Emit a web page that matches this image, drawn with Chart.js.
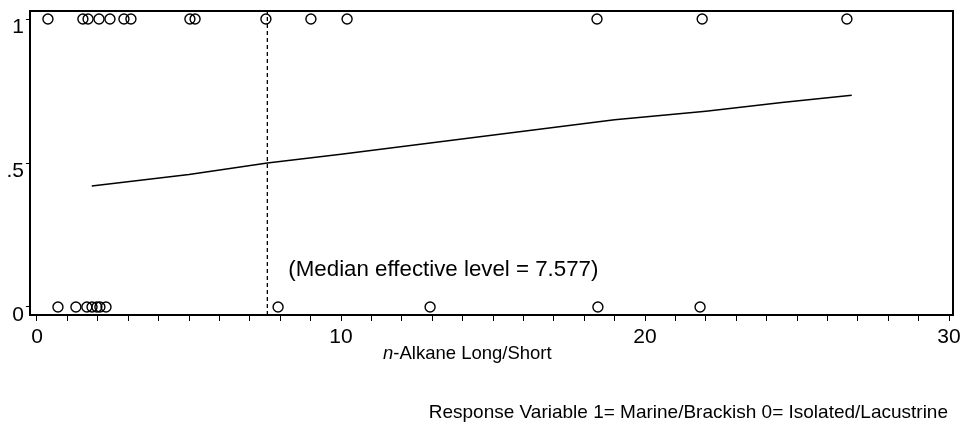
<!DOCTYPE html>
<html>
<head>
<meta charset="utf-8">
<script src="https://cdn.jsdelivr.net/npm/chart.js@4"></script>
<style>
  html, body { margin: 0; padding: 0; background: #fff; }
  #wrap { width: 967px; height: 432px; }
</style>
</head>
<body>
<div id="wrap"><canvas id="chart" width="967" height="432"></canvas></div>
<script>
// observed values, response = 1 (marine/brackish)
const marineX = [0.36, 1.51, 1.68, 2.04, 2.40, 2.86, 3.09, 5.03, 5.20, 7.53, 9.01, 10.20, 18.42, 21.88, 26.64];
// observed values, response = 0 (isolated/lacustrine)
const lacustrineX = [0.69, 1.28, 1.64, 1.81, 1.97, 2.07, 2.27, 7.93, 12.93, 18.45, 21.81];

// fitted probability curve
const fitX = [1.8, 5, 7.577, 10, 13, 16, 19, 22, 24.5, 26.8];
const fitY = [0.42, 0.46, 0.50, 0.53, 0.57, 0.61, 0.65, 0.68, 0.71, 0.735];

const medianLevel = 7.577;
const xTicks = [0, 10, 20, 30];
const yTicks = [0, 0.5, 1];
const yTickLabels = ['0', '.5', '1'];

const X_MIN = -0.23, X_MAX = 30.13;
const Y_MIN = -0.028, Y_MAX = 1.028;
const FONT = '"Liberation Sans", Arial, sans-serif';

const textPlugin = {
  id: 'textPlugin',
  afterDraw(chart) {
    const ctx = chart.ctx;
    const a = chart.chartArea;
    const xs = chart.scales.x;
    ctx.save();
    // frame
    ctx.strokeStyle = '#000';
    ctx.lineWidth = 2;
    ctx.strokeRect(a.left, a.top, a.right - a.left, a.bottom - a.top);

    ctx.fillStyle = '#000';
    ctx.textBaseline = 'middle';
    ctx.font = '22.3px ' + FONT;
    ctx.textAlign = 'left';
    ctx.fillText('(Median effective level = ' + medianLevel + ')', xs.getPixelForValue(medianLevel) + 21, 270);

    // x-axis title with italic n
    const y = 354;
    let x = 383;
    ctx.font = 'italic 18.5px ' + FONT;
    ctx.fillText('n', x, y);
    x += ctx.measureText('n').width;
    ctx.font = '18.5px ' + FONT;
    ctx.fillText('-Alkane Long/Short', x, y);

    ctx.font = '19px ' + FONT;
    ctx.textAlign = 'right';
    ctx.fillText('Response Variable 1= Marine/Brackish 0= Isolated/Lacustrine', 948, 413);
    ctx.restore();
  }
};

new Chart(document.getElementById('chart').getContext('2d'), {
  type: 'scatter',
  data: {
    datasets: [
      {
        label: 'Fitted',
        type: 'line',
        data: fitX.map((v, i) => ({ x: v, y: fitY[i] })),
        borderColor: '#000',
        borderWidth: 1.5,
        pointRadius: 0,
        fill: false,
        tension: 0
      },
      {
        label: 'Median',
        type: 'line',
        data: [{ x: medianLevel, y: Y_MIN }, { x: medianLevel, y: Y_MAX }],
        borderColor: '#000',
        borderWidth: 1.3,
        borderDash: [4, 3],
        pointRadius: 0,
        fill: false
      },
      {
        label: 'Marine/Brackish',
        data: marineX.map(v => ({ x: v, y: 1 })),
        pointStyle: 'circle',
        pointRadius: 5,
        pointBorderWidth: 1.4,
        borderColor: '#000',
        backgroundColor: 'rgba(0,0,0,0)'
      },
      {
        label: 'Isolated/Lacustrine',
        data: lacustrineX.map(v => ({ x: v, y: 0 })),
        pointStyle: 'circle',
        pointRadius: 5,
        pointBorderWidth: 1.4,
        borderColor: '#000',
        backgroundColor: 'rgba(0,0,0,0)'
      }
    ]
  },
  options: {
    responsive: false,
    animation: false,
    layout: { padding: { top: 11, right: 14, left: 0, bottom: 0 } },
    plugins: {
      legend: { display: false },
      tooltip: { enabled: false }
    },
    scales: {
      x: {
        type: 'linear',
        min: X_MIN,
        max: X_MAX,
        afterBuildTicks(scale) {
          const t = [];
          for (let v = 0; v <= 30; v++) t.push({ value: v });
          scale.ticks = t;
        },
        afterFit(scale) { scale.height = 117; scale.paddingLeft = 0; scale.paddingRight = 0; },
        border: { display: true, color: '#000', width: 2 },
        grid: { drawOnChartArea: false, drawTicks: true, tickLength: 6, color: '#000', lineWidth: 1 },
        ticks: {
          autoSkip: false,
          maxRotation: 0,
          padding: 4,
          color: '#000',
          font: { family: FONT, size: 21 },
          callback: v => xTicks.includes(v) ? String(v) : ''
        }
      },
      y: {
        type: 'linear',
        min: Y_MIN,
        max: Y_MAX,
        afterBuildTicks(scale) { scale.ticks = yTicks.map(v => ({ value: v })); },
        afterFit(scale) { scale.width = 30; scale.paddingTop = 0; scale.paddingBottom = 0; },
        border: { display: true, color: '#000', width: 2 },
        grid: { drawOnChartArea: false, drawTicks: true, tickLength: 4, color: '#000', lineWidth: 1 },
        ticks: {
          padding: 2,
          labelOffset: 8,
          color: '#000',
          font: { family: FONT, size: 21 },
          callback: v => yTickLabels[yTicks.indexOf(v)] ?? ''
        }
      }
    }
  },
  plugins: [textPlugin]
});
</script>
</body>
</html>
